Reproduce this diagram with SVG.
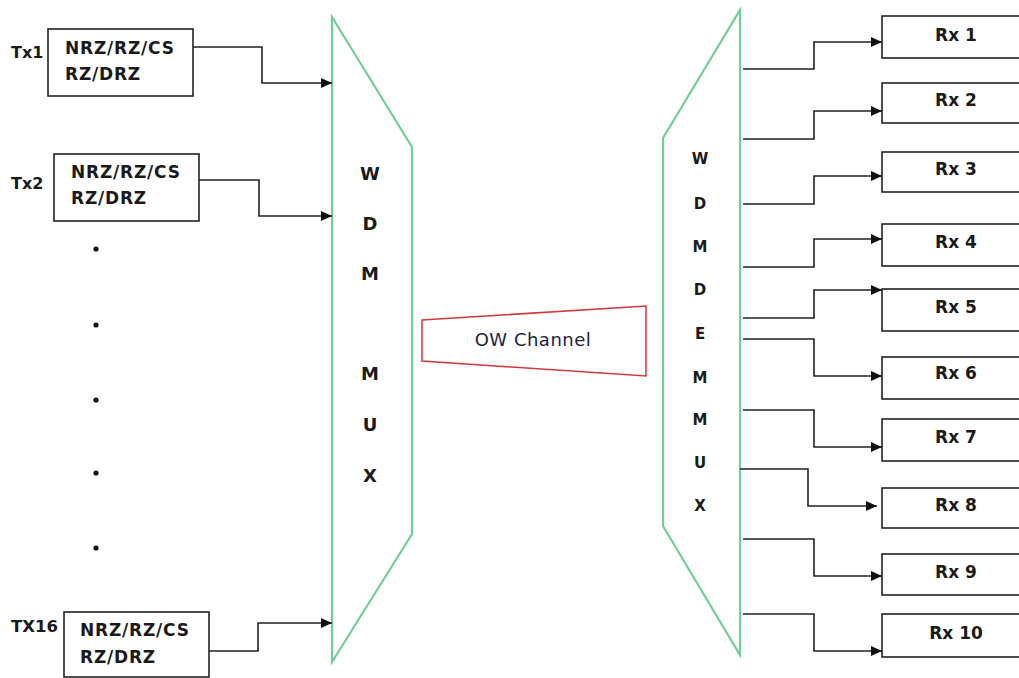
<svg xmlns="http://www.w3.org/2000/svg" width="1019" height="678" viewBox="0 0 1019 678">
<style>
.box{fill:#fff;stroke:#222;stroke-width:1.6}
.wdm{fill:#fff;stroke:#6fcf97;stroke-width:2.2;stroke-linejoin:miter}
.ch{fill:#fff;stroke:#d03a3a;stroke-width:1.5}
.lbl{font-family:"DejaVu Sans",Verdana,sans-serif;font-weight:bold;font-size:16px;fill:#1a1a1a}
.mod{font-family:"DejaVu Sans",Verdana,sans-serif;font-weight:bold;font-size:17px;letter-spacing:0.8px;fill:#1a1a1a}
.rx{font-family:"DejaVu Sans",Verdana,sans-serif;font-weight:bold;font-size:17px;fill:#1a1a1a;text-anchor:middle}
.big{font-family:"DejaVu Sans",Verdana,sans-serif;font-weight:bold;font-size:18px;fill:#1a1a1a;text-anchor:middle}
.sm{font-family:"DejaVu Sans",Verdana,sans-serif;font-weight:bold;font-size:15px;fill:#1a1a1a;text-anchor:middle}
.ow{font-family:"DejaVu Sans",Verdana,sans-serif;font-size:18px;letter-spacing:0.5px;fill:#1a2440;text-anchor:middle}
.wire{fill:none;stroke:#222;stroke-width:1.6}
.arr{fill:none;stroke:#222;stroke-width:1.6;marker-end:url(#ah)}
</style>
<defs>
<marker id="ah" markerUnits="userSpaceOnUse" markerWidth="12" markerHeight="10" refX="11" refY="5" orient="auto">
<path d="M0,0 L11,5 L0,10 z" fill="#111"/>
</marker>
</defs>
<rect width="1019" height="678" fill="#fff"/>

<g id="mux">
<polygon class="wdm" points="332,17 412,147 412,534 332,662"/>
<text class="big" x="370" y="179.5">W</text>
<text class="big" x="370" y="229.5">D</text>
<text class="big" x="370" y="279.5">M</text>
<text class="big" x="370" y="379.5">M</text>
<text class="big" x="370" y="430.5">U</text>
<text class="big" x="370" y="481.5">X</text>
</g>

<g id="demux">
<polygon class="wdm" points="740,10 740,655 663,526 663,138"/>
<text class="sm" x="700" y="163.5">W</text>
<text class="sm" x="700" y="208.5">D</text>
<text class="sm" x="700" y="251.5">M</text>
<text class="sm" x="700" y="294.5">D</text>
<text class="sm" x="700" y="338.5">E</text>
<text class="sm" x="700" y="382.5">M</text>
<text class="sm" x="700" y="424.5">M</text>
<text class="sm" x="700" y="467.5">U</text>
<text class="sm" x="700" y="510.5">X</text>
</g>

<g id="channel">
<polygon class="ch" points="422,320 646,306 646,376 422,361"/>
<text class="ow" x="533" y="346">OW Channel</text>
</g>

<g id="tx1">
<text class="lbl" x="11" y="58">Tx1</text>
<rect class="box" x="48" y="29" width="145" height="67"/>
<text class="mod" x="65" y="54">NRZ/RZ/CS</text>
<text class="mod" x="65" y="80">RZ/DRZ</text>
</g>

<g id="tx2">
<text class="lbl" x="11" y="189">Tx2</text>
<rect class="box" x="54" y="154" width="145" height="67"/>
<text class="mod" x="71" y="178">NRZ/RZ/CS</text>
<text class="mod" x="71" y="204">RZ/DRZ</text>
</g>

<g id="dots" fill="#111">
<circle cx="96" cy="249" r="2.6"/>
<circle cx="96" cy="325" r="2.6"/>
<circle cx="96" cy="400" r="2.6"/>
<circle cx="96" cy="473" r="2.6"/>
<circle cx="96" cy="548" r="2.6"/>
</g>

<g id="tx16">
<text class="lbl" x="11" y="632" style="font-size:16.5px">TX16</text>
<rect class="box" x="64" y="612" width="145" height="65"/>
<text class="mod" x="80" y="636">NRZ/RZ/CS</text>
<text class="mod" x="80" y="663">RZ/DRZ</text>
</g>

<g id="rx1"><rect class="box" x="882" y="16" width="150" height="42"/><text class="rx" x="956" y="41">Rx 1</text></g>
<g id="rx2"><rect class="box" x="882" y="83" width="150" height="40"/><text class="rx" x="956" y="106">Rx 2</text></g>
<g id="rx3"><rect class="box" x="882" y="152" width="150" height="40"/><text class="rx" x="956" y="175">Rx 3</text></g>
<g id="rx4"><rect class="box" x="882" y="224" width="150" height="42"/><text class="rx" x="956" y="248">Rx 4</text></g>
<g id="rx5"><rect class="box" x="882" y="289" width="150" height="42"/><text class="rx" x="956" y="313">Rx 5</text></g>
<g id="rx6"><rect class="box" x="882" y="357" width="150" height="42"/><text class="rx" x="956" y="379">Rx 6</text></g>
<g id="rx7"><rect class="box" x="882" y="419" width="150" height="42"/><text class="rx" x="956" y="443">Rx 7</text></g>
<g id="rx8"><rect class="box" x="882" y="488" width="150" height="40"/><text class="rx" x="956" y="511">Rx 8</text></g>
<g id="rx9"><rect class="box" x="882" y="554" width="150" height="41"/><text class="rx" x="956" y="578">Rx 9</text></g>
<g id="rx10"><rect class="box" x="882" y="614" width="150" height="43"/><text class="rx" x="956" y="639">Rx 10</text></g>

<g id="connectors">
<path class="arr" d="M193,47 H262 V83 H332"/>
<path class="arr" d="M199,180 H259 V216 H332"/>
<path class="arr" d="M209,651 H258 V623 H332"/>

<path class="arr" d="M743,69 H814 V42 H882"/>
<path class="arr" d="M743,139 H814 V111 H882"/>
<path class="arr" d="M743,204 H814 V176 H882"/>
<path class="arr" d="M743,267 H814 V239 H882"/>
<path class="arr" d="M743,318 H814 V290 H882"/>
<path class="arr" d="M743,339 H814 V376 H882"/>
<path class="arr" d="M743,410 H814 V447 H882"/>
<path class="arr" d="M740,469 H808 V506 H877"/>
<path class="arr" d="M743,539 H814 V576 H882"/>
<path class="arr" d="M743,614 H814 V651 H882"/>
</g>
</svg>
